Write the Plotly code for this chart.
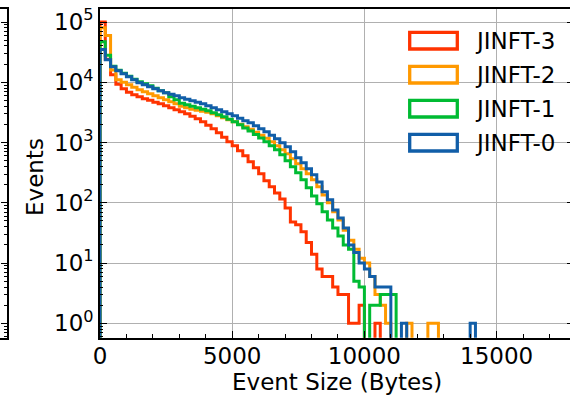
import plotly.graph_objects as go

# ---------------- data ----------------
bin_width = 200  # bytes
names = ["JINFT-3", "JINFT-2", "JINFT-1", "JINFT-0"]
colors = ["#FF3300", "#FF9900", "#00BB33", "#115EA8"]

jinft3 = [100000, 24000, 13300, 9300, 7800, 6830, 6200, 5740, 5320, 5020,
          4650, 4390, 4070, 3770, 3490, 3230, 3000, 2720, 2480, 2210,
          1930, 1690, 1450, 1220, 1030, 882, 728, 601, 478, 380,
          302, 231, 184, 146, 116, 82, 48, 43, 33, 22,
          14, 8, 6, 6, 4, 3, 3, 1, 1, 2,
          0, 0, 1, 0, 0, 0, 0, 0, 0, 0,
          0, 0, 0, 0, 0, 0, 0, 0, 0, 0, 0]
jinft2 = [80000, 60000, 16000, 11000, 9980, 9070, 8260, 7500, 6950, 6440,
          5970, 5530, 5120, 4740, 4390, 3990, 3770, 3560, 3430, 3300,
          3180, 3000, 2780, 2570, 2380, 2210, 2010, 1820, 1660, 1480,
          1320, 1180, 1030, 882, 757, 649, 536, 443, 366, 302,
          240, 184, 135, 100, 71, 52, 35, 24, 17, 12,
          10, 6, 3, 2, 1, 0, 0, 0, 1, 0,
          0, 0, 1, 1, 0, 0, 0, 0, 0, 0, 0]
jinft1 = [47000, 28000, 18500, 15800, 14100, 12600, 11200, 10200, 9440, 8740,
          7950, 7220, 6690, 5740, 5120, 4480, 4230, 3990, 3770, 3560,
          3360, 3110, 2880, 2670, 2430, 2210, 1970, 1750, 1560, 1360,
          1190, 1030, 882, 757, 625, 497, 395, 314, 240, 177,
          130, 96, 71, 52, 38, 28, 20, 17, 5, 4,
          0, 2, 2, 3, 3, 3, 0, 0, 0, 0,
          0, 0, 0, 0, 0, 0, 0, 0, 0, 0, 0]
jinft0 = [35000, 23600, 18100, 15500, 13800, 12300, 11000, 9800, 9070, 8400,
          7790, 7220, 6690, 6310, 5970, 5530, 5220, 4930, 4650, 4390,
          4070, 3770, 3490, 3230, 3000, 2780, 2530, 2290, 2120, 1890,
          1690, 1510, 1320, 1150, 988, 849, 701, 557, 460, 366,
          291, 222, 152, 112, 76, 56, 38, 20, 15, 10,
          8, 6, 4, 4, 4, 0, 0, 1, 0, 0,
          0, 0, 0, 0, 0, 0, 0, 0, 0, 0, 1]
series = [jinft3, jinft2, jinft1, jinft0]

x_tickvals = [0, 5000, 10000, 15000]
x_ticktext = ["0", "5000", "10000", "15000"]
y_tickvals = [1, 10, 100, 1000, 10000, 100000]
y_ticktext = ["10<sup>0</sup>", "10<sup>1</sup>", "10<sup>2</sup>",
              "10<sup>3</sup>", "10<sup>4</sup>", "10<sup>5</sup>"]

# ---------------- layout geometry ----------------
W, H = 570, 399
FONT = "DejaVu Sans"
FS = 23
left_px, top_px, bottom_px = 100, 9.3, 337.7
x_max = 17776
y_range = [-0.239, 5.211]
FLOOR = 1e-3  # zero-count bins drop below the axis (clipped)


def px_x(p):
    return p / W


def px_y(p):
    return 1 - p / H


fig = go.Figure()
for name, color, counts in zip(names, colors, series):
    edges = [i * bin_width for i in range(len(counts) + 1)]
    xs = [edges[0]] + edges
    ys = [FLOOR] + [c if c > 0 else FLOOR for c in counts] + [FLOOR]
    fig.add_trace(go.Scatter(
        x=xs, y=ys, mode="lines", name=name, showlegend=False,
        line=dict(color=color, width=3, shape="hv", simplify=False),
        hoverinfo="skip"))

# empty helper traces so the extra axes (right-side ticks, cut-off
# neighbouring panel) get drawn
fig.add_trace(go.Scatter(x=[None], y=[None], xaxis="x", yaxis="y2",
                         mode="lines", showlegend=False, hoverinfo="skip"))
fig.add_trace(go.Scatter(x=[None], y=[None], xaxis="x3", yaxis="y3",
                         mode="lines", showlegend=False, hoverinfo="skip"))

tick_common = dict(ticks="inside", tickcolor="black", tickwidth=1.3,
                   showline=True, linecolor="black", linewidth=1.6,
                   zeroline=False, automargin=False)
minor_common = dict(ticks="inside", ticklen=3.5, tickwidth=1.3,
                    tickcolor="black", showgrid=False)

fig.update_layout(
    template="none",
    width=W, height=H,
    margin=dict(l=0, r=0, t=0, b=0, pad=0),
    paper_bgcolor="white", plot_bgcolor="white",
    font=dict(family=FONT, size=FS, color="black"),
    showlegend=False,
    xaxis=dict(domain=[px_x(left_px), 1], range=[0, x_max], anchor="y",
               tickmode="array", tickvals=x_tickvals, ticktext=x_ticktext,
               ticklen=7, mirror=True,
               showgrid=True, gridcolor="#b0b0b0", gridwidth=1.3,
               tickfont=dict(size=FS), ticklabelstandoff=-3,
               minor=dict(dtick=1000, tick0=0, **minor_common),
               **tick_common),
    yaxis=dict(domain=[px_y(bottom_px), px_y(top_px)], type="log",
               range=y_range, anchor="x", tickmode="array",
               tickvals=y_tickvals, ticktext=y_ticktext, ticklen=7,
               mirror=False, showgrid=True, gridcolor="#b0b0b0",
               gridwidth=1.3, tickfont=dict(size=FS),
               minor=dict(dtick="D1", **minor_common),
               **tick_common),
    yaxis2=dict(overlaying="y", side="right", anchor="x", type="log",
                range=y_range, tickmode="array", tickvals=y_tickvals,
                ticks="inside", ticklen=3.5, tickwidth=1.3,
                tickcolor="black", showticklabels=False, showgrid=False,
                showline=False, zeroline=False, automargin=False),
    # neighbouring panel, cut off at the left edge
    xaxis3=dict(domain=[0, px_x(7.3)], anchor="y3", range=[0, 1],
                showline=True, linecolor="black", linewidth=1.6,
                mirror=True, ticks="", showticklabels=False,
                showgrid=False, zeroline=False, automargin=False),
    yaxis3=dict(domain=[px_y(bottom_px), px_y(top_px)], anchor="x3",
                side="right", type="log", range=y_range, tickmode="array",
                tickvals=y_tickvals, ticklen=7, showticklabels=False,
                showgrid=False, minor=dict(dtick="D1", **minor_common),
                **tick_common),
)

# axis titles
fig.add_annotation(text="Event Size (Bytes)", xref="paper", yref="paper",
                   x=px_x(336.7), y=px_y(382), xanchor="center",
                   yanchor="middle", showarrow=False,
                   font=dict(size=FS, family=FONT))
fig.add_annotation(text="Events", xref="paper", yref="paper",
                   x=px_x(35), y=px_y(177), xanchor="center",
                   yanchor="middle", textangle=-90, showarrow=False,
                   font=dict(size=FS, family=FONT))

# legend (outlined boxes like step-histogram patches)
for i, (name, color) in enumerate(zip(names, colors)):
    top = 32.3 + 34 * i
    bot = 49.0 + 34 * i
    fig.add_shape(type="rect", xref="paper", yref="paper",
                  x0=px_x(409.7), x1=px_x(457.3), y0=px_y(bot), y1=px_y(top),
                  line=dict(color=color, width=3.3), fillcolor="white")
    fig.add_annotation(text=name, xref="paper", yref="paper",
                       x=px_x(473), y=px_y((top + bot) / 2), xanchor="left",
                       yanchor="middle", showarrow=False,
                       font=dict(size=FS, family=FONT))

fig.write_html("out.html")
